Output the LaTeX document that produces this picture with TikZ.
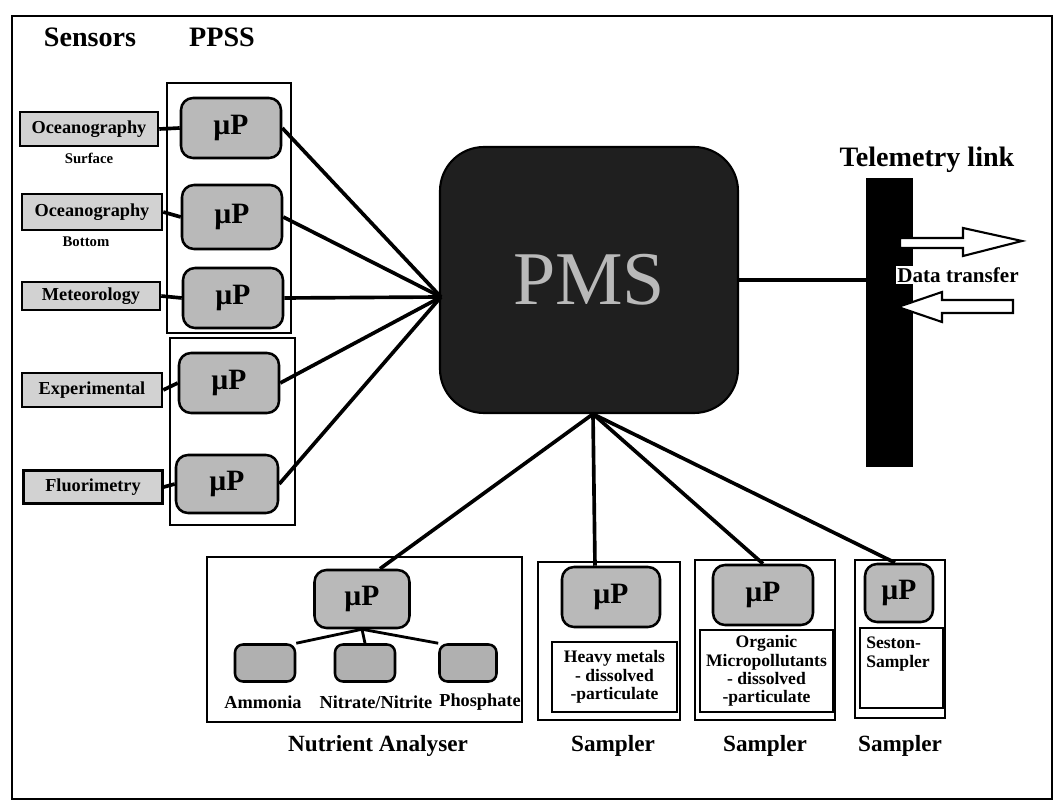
\documentclass[tikz,border=0pt]{standalone}
\usepackage{fontspec}
\setmainfont{Liberation Serif}
\usetikzlibrary{calc}
\def\u{0.025cm}
\tikzset{
  sensorbox/.style={draw, line width=1.8pt, fill=gray!35, inner sep=0pt, font=\fontsize{13}{14}\bfseries\selectfont},
  upbox/.style={draw, line width=1.8pt, fill=gray!55, rounded corners=0.3cm, inner sep=0pt, font=\fontsize{21}{22}\bfseries\selectfont},
  subbox/.style={draw, line width=1.8pt, fill=gray!62, rounded corners=0.2cm, inner sep=0pt},
  container/.style={draw, line width=1pt},
  samplerbox/.style={draw, line width=1.4pt},
  innerbox/.style={draw, line width=1.4pt, inner sep=0pt},
  conn/.style={line width=2.6pt},
  thinconn/.style={line width=2pt},
  smalllabel/.style={font=\fontsize{10.5}{11}\bfseries\selectfont},
  head/.style={font=\fontsize{20}{22}\bfseries\selectfont},
  sublabel/.style={font=\fontsize{13}{14}\bfseries\selectfont},
  unitlabel/.style={font=\fontsize{16.5}{18}\bfseries\selectfont},
  hollowarrow/.style={draw, fill=white, line width=1.5pt, line join=miter},
  itext/.style={font=\fontsize{12.5}{13}\bfseries\selectfont, align=center}
}
\begin{document}
\begin{tikzpicture}[x=0.025cm,y=-0.025cm]
\useasboundingbox (0,0) rectangle (1055,806);
% frame
\draw[line width=1.5pt] (12,16) rectangle (1052,799);

% headings
\node[head] (hsens) at (90,37) {Sensors};
\node[head] (hppss) at (222,37) {PPSS};

% PPSS containers
\draw[container] (167,83) rectangle (291,333);
\draw[container] (170,338) rectangle (295,525);

% sensors
\node[sensorbox, minimum width=138*\u, minimum height=34*\u] (s1) at (89,129) {Oceanography};
\node[smalllabel] (l1) at (89,158) {Surface};
\node[sensorbox, minimum width=140*\u, minimum height=36*\u] (s2) at (92,212) {Oceanography};
\node[smalllabel] (l2) at (86,242) {Bottom};
\node[sensorbox, minimum width=138*\u, minimum height=28*\u] (s3) at (91,296) {Meteorology};
\node[sensorbox, minimum width=140*\u, minimum height=34*\u] (s4) at (92,390) {Experimental};
\node[sensorbox, minimum width=139*\u, minimum height=33*\u] (s5) at (93,487) {Fluorimetry};

% microprocessors
\node[upbox, minimum width=100*\u, minimum height=60*\u] (p1) at (231,128) {µP};
\node[upbox, minimum width=100*\u, minimum height=64*\u] (p2) at (232,217) {µP};
\node[upbox, minimum width=100*\u, minimum height=60*\u] (p3) at (233,298) {µP};
\node[upbox, minimum width=100*\u, minimum height=60*\u] (p4) at (229,383) {µP};
\node[upbox, minimum width=102*\u, minimum height=58*\u] (p5) at (227,484) {µP};

\foreach \i in {1,...,5} { \draw[conn] (s\i.east) -- (p\i.west); }

% PMS
\node[draw, line width=1.5pt, fill=black!88, rounded corners=1.1cm, minimum width=298*\u, minimum height=266*\u,
      text=gray!55, font=\fontsize{54}{56}\selectfont] (pms) at (589,280) {PMS};
\coordinate (pmsL) at (441,297);
\coordinate (pmsB) at (593,414);

\foreach \i in {1,...,5} { \draw[conn] (p\i.east) -- (pmsL); }

% telemetry
\node[head] (htel) at (927,160) {Telemetry link};
\node[fill=black, draw, minimum width=46*\u, minimum height=288*\u, inner sep=0pt] (tel) at (889,322) {};
\draw[conn] (pms.east) -- (pms.east -| tel.west);
\draw[hollowarrow] (900,238) -- (963,238) -- (963,228) -- (1022,241) -- (963,256) -- (963,248) -- (900,248) -- cycle;
\draw[hollowarrow] (1013,300) -- (942,300) -- (942,292) -- (898,307) -- (942,322) -- (942,313) -- (1013,313) -- cycle;
\node[fill=white, inner sep=1pt, font=\fontsize{15}{16}\bfseries\selectfont] (dt) at (958,275) {Data transfer};

% Nutrient analyser
\draw[samplerbox] (207,557) rectangle (522,722);
\node[upbox, minimum width=95*\u, minimum height=58*\u] (n0) at (362,599) {µP};
\node[subbox, minimum width=60*\u, minimum height=37*\u] (a1) at (265,663) {};
\node[subbox, minimum width=60*\u, minimum height=37*\u] (a2) at (365,663) {};
\node[subbox, minimum width=57*\u, minimum height=37*\u] (a3) at (468,663) {};
\draw[thinconn] (n0.south) -- (a1.north east);
\draw[thinconn] (n0.south) -- (a2.north);
\draw[thinconn] (n0.south) -- (a3.north west);
\node[sublabel] (la1) at (263,702) {Ammonia};
\node[sublabel] (la2) at (376,702) {Nitrate/Nitrite};
\node[sublabel] (la3) at (480,702) {Phosphate};
\node[unitlabel] (lna) at (378,746) {Nutrient Analyser};

% Sampler 1
\draw[samplerbox] (538,562) rectangle (680,720);
\node[upbox, minimum width=98*\u, minimum height=60*\u] (m1) at (611,597) {µP};
\node[innerbox, minimum width=125*\u, minimum height=70*\u, itext] (t1) at (614.5,677) {Heavy metals\\- dissolved\\-particulate};
\node[unitlabel] (ls1) at (613,746) {Sampler};

% Sampler 2
\draw[samplerbox] (695,560) rectangle (835,720);
\node[upbox, minimum width=100*\u, minimum height=60*\u] (m2) at (763,595) {µP};
\node[innerbox, minimum width=133*\u, minimum height=82*\u, itext] (t2) at (766.5,671) {Organic\\Micropollutants\\- dissolved\\-particulate};
\node[unitlabel] (ls2) at (765,746) {Sampler};

% Sampler 3
\draw[samplerbox] (855,560) rectangle (945,718);
\node[upbox, minimum width=68*\u, minimum height=58*\u] (m3) at (899,593) {µP};
\draw[line width=1.4pt] (860,628) rectangle (943,708);
\node[anchor=north west, inner sep=0pt, font=\fontsize{12.5}{13}\bfseries\selectfont, align=left] (t3) at (866,637) {Seston-\\Sampler};
\node[unitlabel] (ls3) at (900,746) {Sampler};

% PMS to bottom units
\draw[conn] (pmsB) -- ([xshift=0.45cm]n0.north);
\draw[conn] (pmsB) -- ([xshift=-0.4cm]m1.north);
\draw[conn] (pmsB) -- (m2.north);
\draw[conn] (pmsB) -- ([xshift=-0.1cm]m3.north);
\end{tikzpicture}
\end{document}
